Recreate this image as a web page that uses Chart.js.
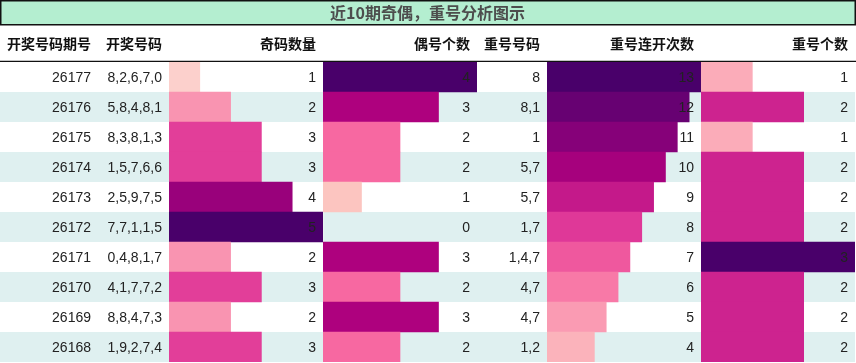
<!DOCTYPE html>
<html lang="zh">
<head>
  <meta charset="UTF-8" />
  <title>近10期奇偶，重号分析图示</title>
  <script src="https://cdn.jsdelivr.net/npm/chart.js"></script>
  <style>
    html, body { margin: 0; padding: 0; background: #fff; }
    .wrap { width: 856px; height: 363px; }
  </style>
</head>
<body>
<div class="wrap"><canvas id="chart"></canvas></div>

<script>
const title = "近10期奇偶，重号分析图示";
const headers = ["开奖号码期号", "开奖号码", "奇码数量", "偶号个数", "重号号码", "重号连开次数", "重号个数"];
const periods = ["26177", "26176", "26175", "26174", "26173", "26172", "26171", "26170", "26169", "26168"];
const draws = ["8,2,6,7,0", "5,8,4,8,1", "8,3,8,1,3", "1,5,7,6,6", "2,5,9,7,5", "7,7,1,1,5", "0,4,8,1,7", "4,1,7,7,2", "8,8,4,7,3", "1,9,2,7,4"];
const oddCount = [1, 2, 3, 3, 4, 5, 2, 3, 2, 3];
const evenCount = [4, 3, 2, 2, 1, 0, 3, 2, 3, 2];
const repeatNums = ["8", "8,1", "1", "5,7", "5,7", "1,7", "1,4,7", "4,7", "4,7", "1,2"];
const repeatRun = [13, 12, 11, 10, 9, 8, 7, 6, 5, 4];
const repeatCount = [1, 2, 1, 2, 2, 2, 3, 2, 2, 2];

// RdPu colour ramp
const rdpu = ["#fff7f3", "#fde0dd", "#fcc5c0", "#fa9fb5", "#f768a1", "#dd3497", "#ae017e", "#7a0177", "#49006a"];
function hex(h) { return [1, 3, 5].map(i => parseInt(h.substr(i, 2), 16)); }
function rampColor(t) {
  t = Math.max(0, Math.min(1, t)) * (rdpu.length - 1);
  const i = Math.min(Math.floor(t), rdpu.length - 2), f = t - i;
  const a = hex(rdpu[i]), b = hex(rdpu[i + 1]);
  const c = a.map((v, k) => Math.round(v + (b[k] - v) * f));
  return `rgb(${c[0]},${c[1]},${c[2]})`;
}

const cellFont = '14px "Liberation Sans", Arial, sans-serif';
const headFont = 'bold 14px "Noto Sans CJK SC", sans-serif';

// columns after the period axis: key, width, text values
const columns = [
  { id: "c2", w: 71, text: draws },
  { id: "c3", w: 154, text: oddCount },
  { id: "c4", w: 154, text: evenCount },
  { id: "c5", w: 70, text: repeatNums },
  { id: "c6", w: 154, text: repeatRun },
  { id: "c7", w: 154, text: repeatCount }
];

function colAxis(w, order, max) {
  return {
    type: "linear",
    position: "top",
    stack: "cols",
    stackWeight: w,
    weight: order,
    display: true,
    min: 0,
    max: max,
    ticks: { display: false },
    grid: { display: false, drawTicks: false },
    border: { display: false },
    afterFit: s => { s.height = 36; s.paddingLeft = 0; s.paddingRight = 0; }
  };
}

function barSet(data, axis) {
  const max = Math.max(...data);
  return {
    data: data,
    xAxisID: axis,
    backgroundColor: ctx => rampColor(ctx.raw / max),
    borderWidth: 0,
    barPercentage: 1,
    categoryPercentage: 1,
    grouped: false
  };
}

const tablePlugin = {
  id: "tablePlugin",
  beforeDraw(chart) {
    const { ctx, scales } = chart;
    const y = scales.y;
    const tb = chart.titleBlock;
    ctx.save();
    // title box
    ctx.fillStyle = "#b4eed0";
    ctx.fillRect(0, tb.top, 855, tb.height - 1);
    ctx.strokeStyle = "#111";
    ctx.lineWidth = 1.5;
    ctx.strokeRect(0.75, tb.top + 0.75, 854.5, tb.height - 2);
    // row stripes
    const half = (y.getPixelForValue(1) - y.getPixelForValue(0)) / 2;
    periods.forEach((p, i) => {
      const cy = y.getPixelForValue(i);
      ctx.fillStyle = i % 2 ? "#dff0f0" : "#ffffff";
      ctx.fillRect(0, cy - half, 855, half * 2);
    });
    ctx.restore();
  },
  afterDatasetsDraw(chart) {
    const { ctx, scales } = chart;
    const y = scales.y;
    const hTop = scales.c2.top, hBot = scales.c2.bottom;
    ctx.save();
    // header line
    ctx.strokeStyle = "#111";
    ctx.lineWidth = 1.3;
    ctx.beginPath();
    ctx.moveTo(0, hBot - 0.6);
    ctx.lineTo(856, hBot - 0.6);
    ctx.stroke();
    // headers
    ctx.font = headFont;
    ctx.fillStyle = "#111";
    ctx.textAlign = "right";
    ctx.textBaseline = "middle";
    const hy = (hTop + hBot) / 2 - 0.5;
    ctx.fillText(headers[0], y.right - 7, hy);
    columns.forEach((c, k) => ctx.fillText(headers[k + 1], scales[c.id].right - 7, hy));
    // cells
    ctx.font = cellFont;
    ctx.fillStyle = "#222";
    periods.forEach((p, i) => ctx.fillText(p, y.right - 7, y.getPixelForValue(i) + 1));
    columns.forEach(c => {
      const s = scales[c.id];
      c.text.forEach((v, i) => ctx.fillText(String(v), s.right - 7, y.getPixelForValue(i) + 1));
    });
    ctx.restore();
  }
};

const chart = new Chart(document.getElementById("chart"), {
  type: "bar",
  data: {
    labels: periods,
    datasets: [
      barSet(oddCount, "c3"),
      barSet(evenCount, "c4"),
      barSet(repeatRun, "c6"),
      barSet(repeatCount, "c7")
    ]
  },
  options: {
    indexAxis: "y",
    responsive: true,
    maintainAspectRatio: false,
    animation: false,
    layout: { padding: { top: 0, left: 0, right: 1, bottom: 1 } },
    plugins: {
      legend: { display: false },
      tooltip: { enabled: false },
      title: {
        display: true,
        text: title,
        color: "#4d4d4d",
        font: { family: '"Noto Sans CJK SC", sans-serif', size: 16, weight: "bold", lineHeight: 1.25 },
        padding: { top: 3, bottom: 3 }
      }
    },
    scales: {
      y: {
        type: "category",
        position: "left",
        offset: true,
        grid: { display: false, drawTicks: false },
        border: { display: false },
        ticks: { display: false },
        afterFit: s => { s.width = 98; s.paddingTop = 0; s.paddingBottom = 0; }
      },
      c2: colAxis(71, 6, 1),
      c3: colAxis(154, 5, Math.max(...oddCount)),
      c4: colAxis(154, 4, Math.max(...evenCount)),
      c5: colAxis(70, 3, 1),
      c6: colAxis(154, 2, Math.max(...repeatRun)),
      c7: colAxis(154, 1, Math.max(...repeatCount))
    }
  },
  plugins: [tablePlugin]
});
</script>
</body>
</html>
